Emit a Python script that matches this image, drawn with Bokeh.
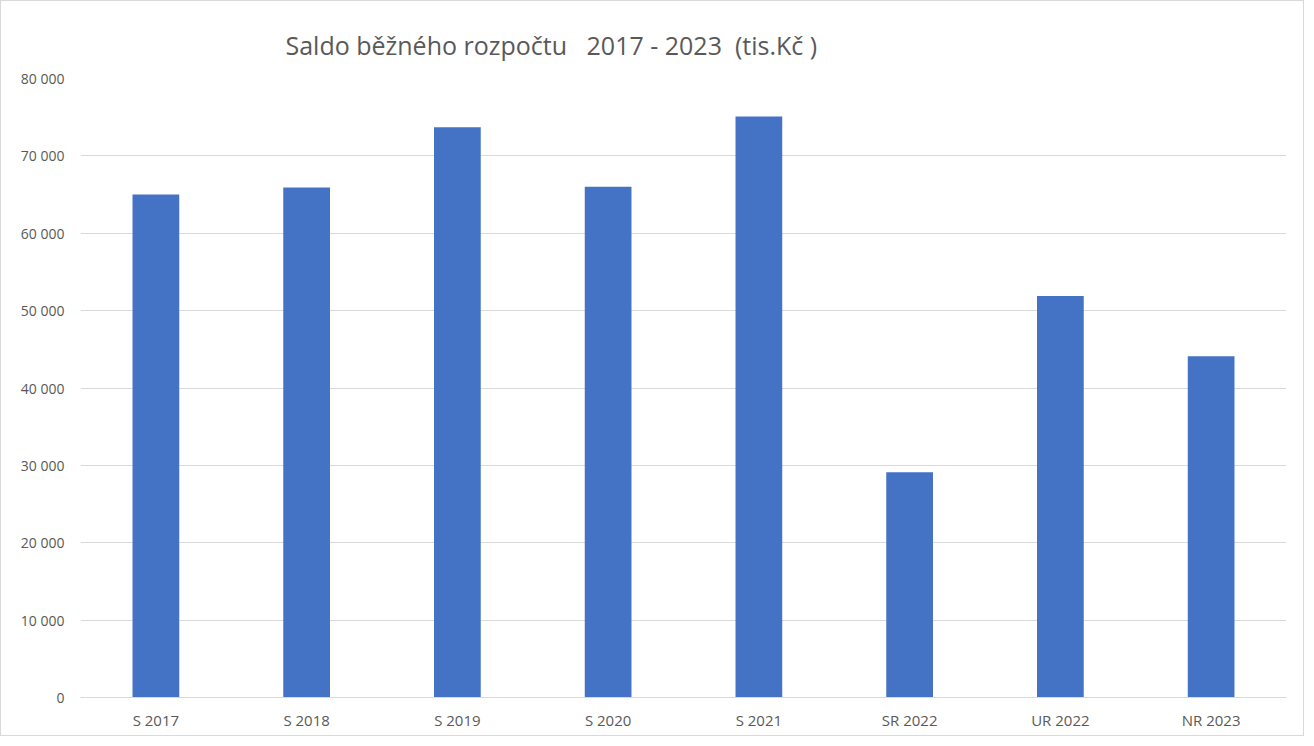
from bokeh.plotting import figure
from bokeh.models import FactorRange, Range1d, FixedTicker, ColumnDataSource, Title
from bokeh.embed import file_html
from bokeh.resources import INLINE

categories = ["S 2017", "S 2018", "S 2019", "S 2020", "S 2021", "SR 2022", "UR 2022", "NR 2023"]
values = [65000, 65900, 73700, 66000, 75100, 29100, 51900, 44100]
y_ticks = [0, 10000, 20000, 30000, 40000, 50000, 60000, 70000, 80000]
y_tick_labels = ["0", "10 000", "20 000", "30 000", "40 000", "50 000", "60 000", "70 000", "80 000"]
title_text = "Saldo běžného rozpočtu \u00a0 2017 - 2023 \u00a0(tis.Kč )"

FONT = "Open Sans"
GRAY = "#595959"

p = figure(x_range=FactorRange(*categories, range_padding=0), y_range=Range1d(0, 80000),
           width=1304, height=736, output_backend="svg", toolbar_location=None,
           min_border_left=79, min_border_right=19, min_border_bottom=40, min_border_top=77)
p.styles = {"border": "1px solid #d9d9d9"}

p.title = Title(text=title_text, align="left", offset=205, text_font=FONT,
                text_font_size="25px", text_font_style="normal", text_color=GRAY,
                standoff=34)

src = ColumnDataSource(dict(cat=categories, val=values))
p.vbar(x="cat", top="val", width=0.31, source=src, color="#4472C4", line_color=None)

p.outline_line_color = None
p.xgrid.grid_line_color = None
p.ygrid.grid_line_color = "#d9d9d9"
p.ygrid.grid_line_width = 1

p.yaxis.ticker = FixedTicker(ticks=y_ticks)
p.yaxis.major_label_overrides = {t: l for t, l in zip(y_ticks, y_tick_labels)}
p.yaxis.axis_line_color = None
p.yaxis.major_tick_line_color = None
p.yaxis.minor_tick_line_color = None
p.yaxis.major_tick_out = 0
p.yaxis.major_label_standoff = 16
p.yaxis.major_label_text_font = FONT
p.yaxis.major_label_text_font_size = "14px"
p.yaxis.major_label_text_color = GRAY

p.xaxis.axis_line_color = "#d9d9d9"
p.xaxis.major_tick_line_color = None
p.xaxis.minor_tick_line_color = None
p.xaxis.major_tick_out = 0
p.xaxis.major_label_standoff = 12
p.xaxis.major_label_text_font = FONT
p.xaxis.major_label_text_font_size = "15px"
p.xaxis.major_label_text_color = GRAY

open("out.html", "w").write(file_html(p, INLINE))
